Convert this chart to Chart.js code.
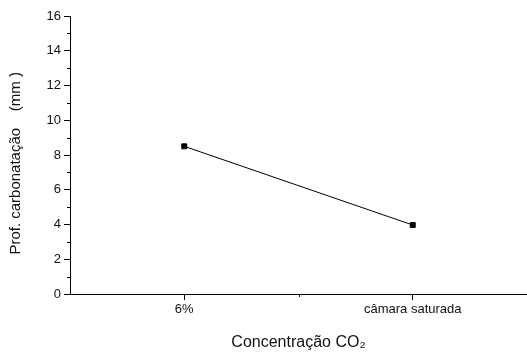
<!DOCTYPE html>
<html>
<head>
<meta charset="utf-8">
<script src="https://cdn.jsdelivr.net/npm/chart.js@4/dist/chart.umd.min.js"></script>
<style>
html,body{margin:0;padding:0;background:#fff;}
#wrap{width:527px;height:352px;position:relative;}
</style>
</head>
<body>
<div id="wrap"><canvas id="c" width="527" height="352"></canvas></div>
<script>
const categories = ["6%", "câmara saturada"];
const depthValues = [8.5, 3.97];
const yTickValues = [0, 2, 4, 6, 8, 10, 12, 14, 16];
const yMinorValues = [1, 3, 5, 7, 9, 11, 13, 15];
const xMinorValues = [0.5];
const xTitle = "Concentração CO₂";
const yTitle = "Prof. carbonatação    (mm )    ";

const minorTicks = {
  id: 'minorTicks',
  afterDraw(chart) {
    const ctx = chart.ctx;
    const xs = chart.scales.x, ys = chart.scales.y;
    ctx.save();
    ctx.strokeStyle = '#000';
    ctx.lineWidth = 1;
    ctx.beginPath();
    yMinorValues.forEach(v => {
      const p = Math.round(ys.getPixelForValue(v)) + 0.5;
      ctx.moveTo(chart.chartArea.left - 3, p);
      ctx.lineTo(chart.chartArea.left, p);
    });
    xMinorValues.forEach(v => {
      const p = Math.round(xs.getPixelForValue(v)) + 0.5;
      ctx.moveTo(p, chart.chartArea.bottom);
      ctx.lineTo(p, chart.chartArea.bottom + 3);
    });
    ctx.stroke();
    ctx.restore();
  }
};

new Chart(document.getElementById('c'), {
  type: 'line',
  data: {
    labels: categories,
    datasets: [{
      data: depthValues,
      borderColor: '#000',
      borderWidth: 1,
      backgroundColor: '#000',
      pointStyle: 'rect',
      pointRadius: 3.5,
      pointBorderWidth: 1,
      pointBorderColor: '#000',
      pointBackgroundColor: '#000',
      tension: 0,
      clip: false
    }]
  },
  options: {
    responsive: false,
    animation: false,
    devicePixelRatio: 1,
    layout: { autoPadding: false, padding: { top: 16, right: 0, left: 0, bottom: 0 } },
    plugins: { legend: { display: false }, tooltip: { enabled: false } },
    scales: {
      x: {
        type: 'category',
        offset: true,
        grid: { display: true, drawOnChartArea: false, drawTicks: true, tickLength: 6, color: '#000', offset: false },
        border: { display: true, color: '#000', width: 1 },
        ticks: { color: '#111', font: { family: 'Liberation Sans, Arial, sans-serif', size: 13 }, padding: 2, maxRotation: 0 },
        title: { display: true, text: xTitle, color: '#111', font: { family: 'Liberation Sans, Arial, sans-serif', size: 16 }, padding: { top: 10, bottom: 0 } },
        afterFit(s) { s.height = 58; s.paddingLeft = 0; s.paddingRight = 0; }
      },
      y: {
        min: 0, max: 16,
        afterBuildTicks(s) { s.ticks = yTickValues.map(v => ({ value: v })); },
        grid: { display: true, drawOnChartArea: false, drawTicks: true, tickLength: 6, color: '#000' },
        border: { display: true, color: '#000', width: 1 },
        ticks: { color: '#111', font: { family: 'Liberation Sans, Arial, sans-serif', size: 13 }, padding: 3 },
        title: { display: true, text: yTitle, color: '#111', font: { family: 'Liberation Sans, Arial, sans-serif', size: 15 }, padding: { top: 7, bottom: 4 } },
        afterFit(s) { s.width = 70; }
      }
    }
  },
  plugins: [minorTicks]
});
</script>
</body>
</html>
